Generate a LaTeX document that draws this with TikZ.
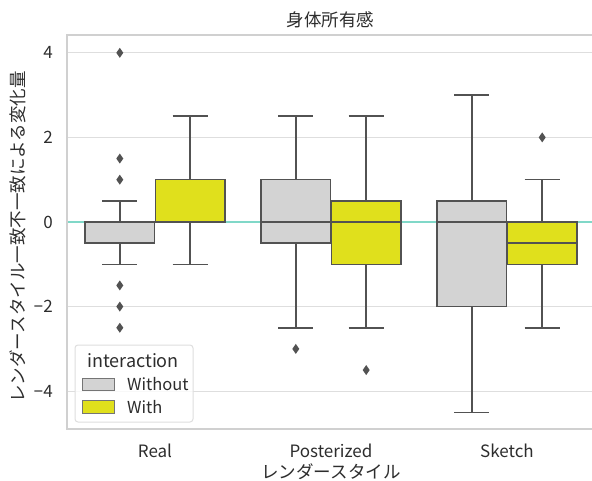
\documentclass[tikz,border=0pt]{standalone}
\usepackage{fontspec}
\setmainfont{Noto Sans CJK JP}
\newfontfamily\minusfont{Noto Sans}
\definecolor{boxline}{RGB}{82,82,82}
\definecolor{withfill}{RGB}{224,224,28}
\definecolor{withoutfill}{RGB}{211,211,211}
\definecolor{gridcol}{RGB}{222,222,222}
\definecolor{spinecol}{RGB}{208,208,208}
\definecolor{zerocol}{RGB}{128,216,200}
\definecolor{txt}{RGB}{45,45,45}
\tikzset{
  gridline/.style={draw=gridcol, line width=1.2pt},
  spine/.style={draw=spinecol, line width=1.3pt},
  zeroline/.style={draw=zerocol, line width=1.4pt},
  whisk/.style={draw=boxline, line width=1.5pt},
  lbl/.style={text=txt, font=\fontsize{17}{19}\selectfont, inner sep=0pt},
  leglbl/.style={text=txt, font=\fontsize{16.5}{18}\selectfont, inner sep=0pt},
  cjklbl/.style={text=txt, font=\fontsize{17.5}{19}\selectfont, inner sep=0pt},
  legtitlestyle/.style={text=txt, font=\fontsize{18}{20}\selectfont, inner sep=0pt},
  legbox/.style={draw=gridcol, fill=white, fill opacity=0.8, line width=1pt, rounded corners=3pt},
  legpatch/.style={draw=boxline!80, line width=0.9pt}
}
\newcommand\mn{{\minusfont −}}
% one box with whiskers: centre, low whisker, Q1, median, Q3, high whisker, fill
\newcommand\bplot[7]{%
  \draw[whisk] (#1,#2) -- (#1,#3) (#1,#5) -- (#1,#6);
  \draw[whisk] (#1-17.5,#2) -- (#1+17.5,#2) (#1-17.5,#6) -- (#1+17.5,#6);
  \filldraw[whisk, fill=#7] (#1-34.8,#3) rectangle (#1+34.8,#5);
  \draw[whisk] (#1-34.8,#4) -- (#1+34.8,#4);
}
% outlier diamond
\newcommand\flier[2]{%
  \fill[boxline] (#1,#2) +(0pt,5pt) -- +(3.5pt,0pt) -- +(0pt,-5pt) -- +(-3.5pt,0pt) -- cycle;
}
\begin{document}
\begin{tikzpicture}[x=1pt,y=1pt]
\useasboundingbox (0,-481) rectangle (592,0);
\fill[white] (0,-481) rectangle (592,0);

\begin{scope}[x=1pt,y=42.3pt,shift={(0pt,-222pt)}]
  % grid
  \foreach \v in {-4,-2,2,4} \draw[gridline] (67,\v) -- (592,\v);
  \draw[zeroline] (67,0) -- (592,0);
  % spines
  \draw[spine] (592,4.421) -- (67,4.421) -- (67,-4.894) -- (592,-4.894);

  % tick labels
  \node[lbl, anchor=east] (t4) at (53,4) {4};
  \node[lbl, anchor=east] (t2) at (53,2) {2};
  \node[lbl, anchor=east] (t0) at (53,0) {0};
  \node[lbl, anchor=east] (tm2) at (53,-2) {\mn2};
  \node[lbl, anchor=east] (tm4) at (53,-4) {\mn4};

  % Real
  \bplot{119.8}{-1}{-0.5}{0}{0}{0.5}{withoutfill}
  \bplot{190.2}{-1}{0}{0}{1}{2.5}{withfill}
  \flier{119.8}{4}\flier{119.8}{1.5}\flier{119.8}{1}
  \flier{119.8}{-1.5}\flier{119.8}{-2}\flier{119.8}{-2.5}
  % Posterized
  \bplot{295.8}{-2.5}{-0.5}{0}{1}{2.5}{withoutfill}
  \bplot{366.2}{-2.5}{-1}{0}{0.5}{2.5}{withfill}
  \flier{295.8}{-3}\flier{366.2}{-3.5}
  % Sketch
  \bplot{471.8}{-4.5}{-2}{0}{0.5}{3}{withoutfill}
  \bplot{542.2}{-2.5}{-1}{-0.5}{0}{1}{withfill}
  \flier{542.2}{2}
\end{scope}

% category labels
\node[lbl, anchor=base] (xr) at (155,-457) {Real};
\node[lbl, anchor=base] (xp) at (331,-457) {Posterized};
\node[lbl, anchor=base] (xs) at (507,-457) {Sketch};

% axis labels and title
\node[cjklbl] (xlab) at (331,-472) {レンダースタイル};
\node[cjklbl, rotate=90] (ylab) at (18,-237) {レンダースタイル一致不一致による変化量};
\node[cjklbl] (title) at (330.5,-20) {身体所有感};

% legend
\draw[legbox] (75,-345) rectangle (193,-422);
\node[legtitlestyle] (legtitle) at (133,-361) {interaction};
\filldraw[legpatch, fill=withoutfill] (82,-378) rectangle (114,-390);
\filldraw[legpatch, fill=withfill] (82,-400) rectangle (114,-413);
\node[leglbl, anchor=west] (legwo) at (127,-384) {Without};
\node[leglbl, anchor=west] (legw) at (127,-407) {With};
\end{tikzpicture}
\end{document}
